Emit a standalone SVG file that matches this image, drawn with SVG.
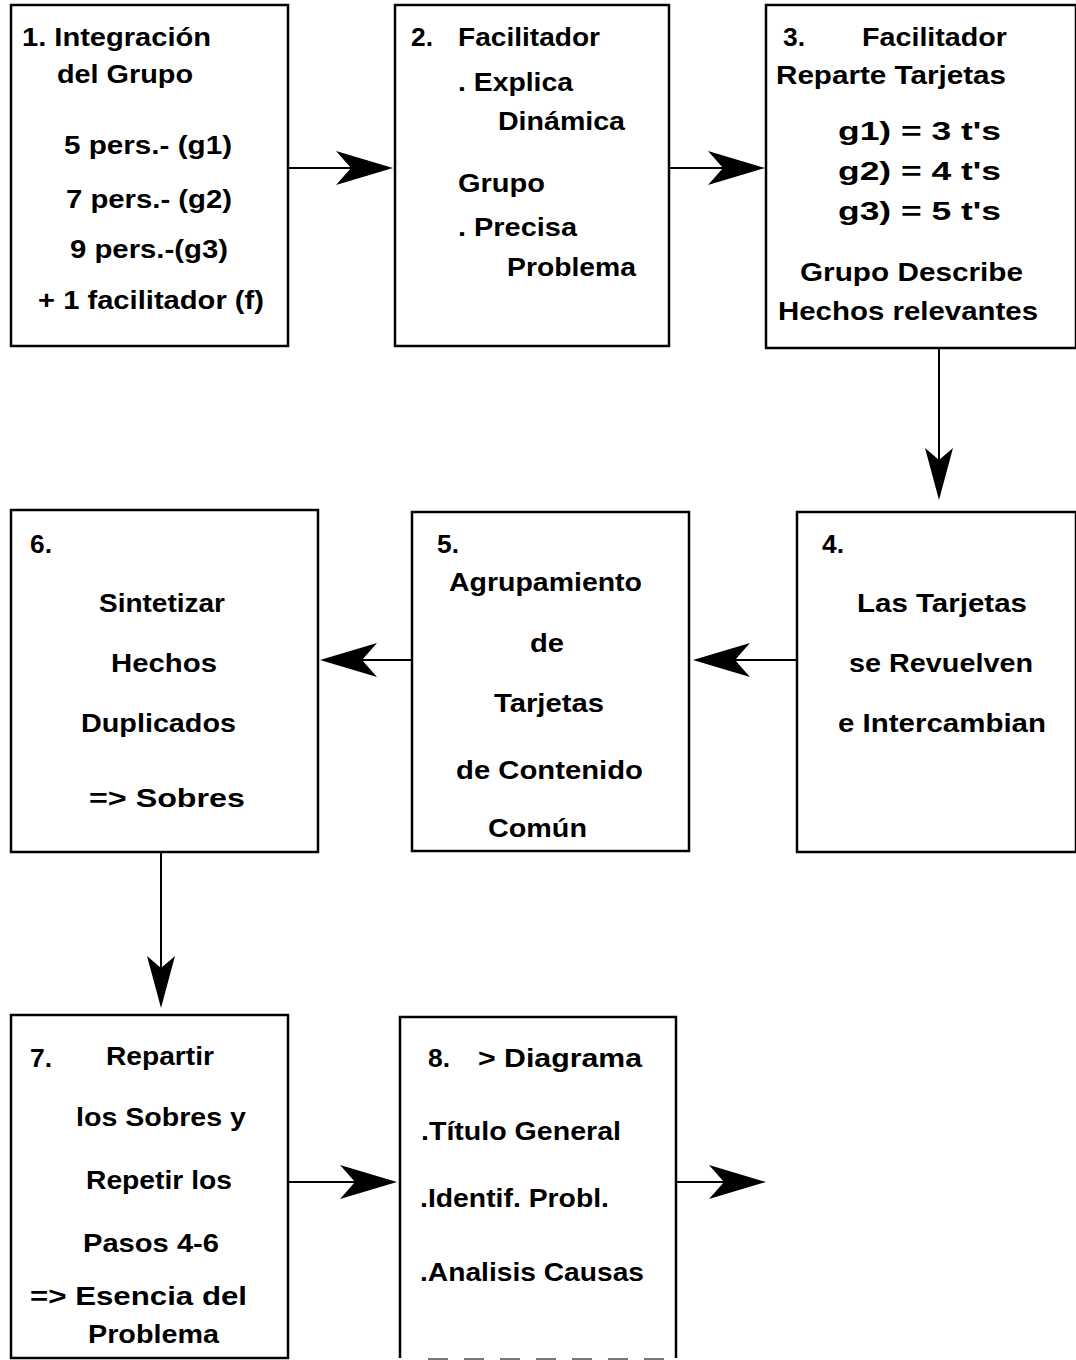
<svg xmlns="http://www.w3.org/2000/svg" xmlns:xlink="http://www.w3.org/1999/xlink" width="1076" height="1360" viewBox="0 0 1076 1360">
<style>
.box{fill:#fff;stroke:#000;stroke-width:2.5}
.t{font-family:"Liberation Sans",Arial,Helvetica,sans-serif;font-size:25px;font-weight:bold;fill:#000}
.c{stroke:#000;stroke-width:2;fill:none}
</style>
<defs>
<path id="ah" d="M0,0 L-57,-17 L-42,0 L-57,17 Z" fill="#000"/>
<path id="ahd" d="M0,0 L-14,-52 L0,-40 L14,-52 Z" fill="#000"/>
</defs>
<rect width="1076" height="1360" fill="#fff"/>
<g id="connectors">
<line class="c" x1="288" y1="168" x2="388" y2="168"/>
<use xlink:href="#ah" transform="translate(393,168)"/>
<line class="c" x1="669" y1="168" x2="760" y2="168"/>
<use xlink:href="#ah" transform="translate(765,168)"/>
<line class="c" x1="939" y1="348" x2="939" y2="495"/>
<use xlink:href="#ahd" transform="translate(939,500)"/>
<line class="c" x1="797" y1="660" x2="700" y2="660"/>
<use xlink:href="#ah" transform="translate(693,660) rotate(180)"/>
<line class="c" x1="412" y1="660" x2="326" y2="660"/>
<use xlink:href="#ah" transform="translate(320,660) rotate(180)"/>
<line class="c" x1="161" y1="852" x2="161" y2="1003"/>
<use xlink:href="#ahd" transform="translate(161,1008)"/>
<line class="c" x1="288" y1="1182" x2="392" y2="1182"/>
<use xlink:href="#ah" transform="translate(397,1182)"/>
<line class="c" x1="676" y1="1182" x2="760" y2="1182"/>
<use xlink:href="#ah" transform="translate(766,1182)"/>
</g>
<g id="node1">
<rect class="box" x="11" y="5" width="277" height="341"/>
<text class="t" x="22" y="46" textLength="189" lengthAdjust="spacingAndGlyphs">1. Integración</text>
<text class="t" x="57" y="83" textLength="136" lengthAdjust="spacingAndGlyphs">del Grupo</text>
<text class="t" x="64" y="154" textLength="168" lengthAdjust="spacingAndGlyphs">5 pers.- (g1)</text>
<text class="t" x="66" y="208" textLength="166" lengthAdjust="spacingAndGlyphs">7 pers.- (g2)</text>
<text class="t" x="70" y="258" textLength="158" lengthAdjust="spacingAndGlyphs">9 pers.-(g3)</text>
<text class="t" x="38" y="309" textLength="226" lengthAdjust="spacingAndGlyphs">+ 1 facilitador (f)</text>
</g>
<g id="node2">
<rect class="box" x="395" y="5" width="274" height="341"/>
<text class="t" x="411" y="46" textLength="22" lengthAdjust="spacingAndGlyphs">2.</text>
<text class="t" x="458" y="46" textLength="142" lengthAdjust="spacingAndGlyphs">Facilitador</text>
<text class="t" x="458" y="91" textLength="115" lengthAdjust="spacingAndGlyphs">. Explica</text>
<text class="t" x="498" y="130" textLength="127" lengthAdjust="spacingAndGlyphs">Dinámica</text>
<text class="t" x="458" y="192" textLength="87" lengthAdjust="spacingAndGlyphs">Grupo</text>
<text class="t" x="458" y="236" textLength="119" lengthAdjust="spacingAndGlyphs">. Precisa</text>
<text class="t" x="507" y="276" textLength="129" lengthAdjust="spacingAndGlyphs">Problema</text>
</g>
<g id="node3">
<rect class="box" x="766" y="5" width="310" height="343"/>
<text class="t" x="783" y="46" textLength="22" lengthAdjust="spacingAndGlyphs">3.</text>
<text class="t" x="862" y="46" textLength="145" lengthAdjust="spacingAndGlyphs">Facilitador</text>
<text class="t" x="776" y="84" textLength="230" lengthAdjust="spacingAndGlyphs">Reparte Tarjetas</text>
<text class="t" x="838" y="140" textLength="163" lengthAdjust="spacingAndGlyphs">g1) = 3 t's</text>
<text class="t" x="838" y="180" textLength="163" lengthAdjust="spacingAndGlyphs">g2) = 4 t's</text>
<text class="t" x="838" y="220" textLength="163" lengthAdjust="spacingAndGlyphs">g3) = 5 t's</text>
<text class="t" x="800" y="281" textLength="223" lengthAdjust="spacingAndGlyphs">Grupo Describe</text>
<text class="t" x="778" y="320" textLength="260" lengthAdjust="spacingAndGlyphs">Hechos relevantes</text>
</g>
<g id="node4">
<rect class="box" x="797" y="512" width="279" height="340"/>
<text class="t" x="822" y="553" textLength="22" lengthAdjust="spacingAndGlyphs">4.</text>
<text class="t" x="857" y="612" textLength="170" lengthAdjust="spacingAndGlyphs">Las Tarjetas</text>
<text class="t" x="849" y="672" textLength="184" lengthAdjust="spacingAndGlyphs">se Revuelven</text>
<text class="t" x="838" y="732" textLength="208" lengthAdjust="spacingAndGlyphs">e Intercambian</text>
</g>
<g id="node5">
<rect class="box" x="412" y="512" width="277" height="339"/>
<text class="t" x="437" y="553" textLength="22" lengthAdjust="spacingAndGlyphs">5.</text>
<text class="t" x="449" y="591" textLength="193" lengthAdjust="spacingAndGlyphs">Agrupamiento</text>
<text class="t" x="530" y="652" textLength="34" lengthAdjust="spacingAndGlyphs">de</text>
<text class="t" x="494" y="712" textLength="110" lengthAdjust="spacingAndGlyphs">Tarjetas</text>
<text class="t" x="456" y="779" textLength="187" lengthAdjust="spacingAndGlyphs">de Contenido</text>
<text class="t" x="488" y="837" textLength="99" lengthAdjust="spacingAndGlyphs">Común</text>
</g>
<g id="node6">
<rect class="box" x="11" y="510" width="307" height="342"/>
<text class="t" x="30" y="553" textLength="22" lengthAdjust="spacingAndGlyphs">6.</text>
<text class="t" x="99" y="612" textLength="126" lengthAdjust="spacingAndGlyphs">Sintetizar</text>
<text class="t" x="111" y="672" textLength="106" lengthAdjust="spacingAndGlyphs">Hechos</text>
<text class="t" x="81" y="732" textLength="155" lengthAdjust="spacingAndGlyphs">Duplicados</text>
<text class="t" x="89" y="807" textLength="156" lengthAdjust="spacingAndGlyphs">=&gt; Sobres</text>
</g>
<g id="node7">
<rect class="box" x="11" y="1015" width="277" height="343"/>
<text class="t" x="30" y="1067" textLength="22" lengthAdjust="spacingAndGlyphs">7.</text>
<text class="t" x="106" y="1065" textLength="108" lengthAdjust="spacingAndGlyphs">Repartir</text>
<text class="t" x="76" y="1126" textLength="170" lengthAdjust="spacingAndGlyphs">los Sobres y</text>
<text class="t" x="86" y="1189" textLength="146" lengthAdjust="spacingAndGlyphs">Repetir los</text>
<text class="t" x="83" y="1252" textLength="136" lengthAdjust="spacingAndGlyphs">Pasos 4-6</text>
<text class="t" x="30" y="1305" textLength="217" lengthAdjust="spacingAndGlyphs">=&gt; Esencia del</text>
<text class="t" x="88" y="1343" textLength="131" lengthAdjust="spacingAndGlyphs">Problema</text>
</g>
<g id="node8">
<path class="box" d="M400,1358 V1017 H676 V1358"/>
<line x1="428" y1="1359" x2="676" y2="1359" stroke="#777" stroke-width="2" stroke-dasharray="20,16"/>
<text class="t" x="428" y="1067" textLength="22" lengthAdjust="spacingAndGlyphs">8.</text>
<text class="t" x="478" y="1067" textLength="164" lengthAdjust="spacingAndGlyphs">&gt; Diagrama</text>
<text class="t" x="421" y="1140" textLength="200" lengthAdjust="spacingAndGlyphs">.Título General</text>
<text class="t" x="420" y="1207" textLength="189" lengthAdjust="spacingAndGlyphs">.Identif. Probl.</text>
<text class="t" x="420" y="1281" textLength="224" lengthAdjust="spacingAndGlyphs">.Analisis Causas</text>
</g>
</svg>
